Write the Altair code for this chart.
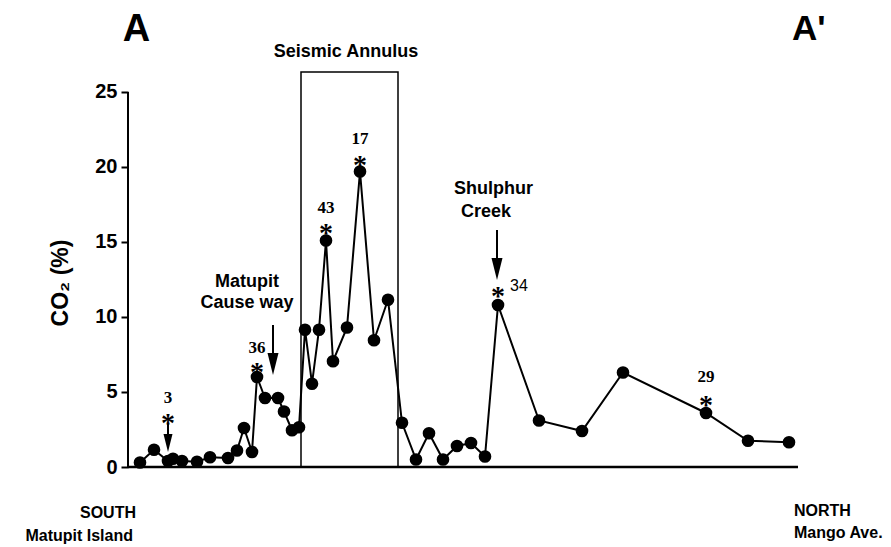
import altair as alt
import pandas as pd

# ---- data (distance along profile A-A', arbitrary units; CO2 in %) ----
dist = [12, 26, 40, 45, 54, 69, 82, 100, 109, 116, 124, 129, 137, 150, 156, 164, 171,
        177, 184, 191, 198, 205, 219, 232, 246, 260, 274, 288, 301, 315, 329, 343, 357,
        370, 411, 454, 495, 578, 620, 661]
co2 = [0.3, 1.15, 0.4, 0.55, 0.4, 0.35, 0.65, 0.6, 1.1, 2.6, 1.0, 6.0, 4.6, 4.6, 3.7, 2.45, 2.65,
       9.15, 5.55, 9.15, 15.1, 7.05, 9.3, 19.7, 8.45, 11.15, 2.95, 0.5, 2.25, 0.5, 1.4, 1.6, 0.7,
       10.8, 3.1, 2.4, 6.3, 3.6, 1.75, 1.65]

# sampled-site annotations (asterisks with site numbers)
star_x = [40, 129, 198, 232, 370, 578]
star_y = [3.33, 6.73, 16.0, 20.53, 11.8, 4.53]
site_label = ["3", "36", "43", "17", "34", "29"]
site_label_x = [40, 129, 198, 232, 391, 578]
site_label_y = [4.6, 7.9, 17.25, 21.85, 12.05, 6.0]
site_label_serif = [True, True, True, True, False, True]

# arrows
arrow_x = [40, 145, 369]
arrow_top = [2.87, 9.47, 15.8]
arrow_tip = [1.0, 6.13, 12.47]
arrow_head = [324, 484, 484]

# seismic annulus box
box_x = [173]
box_x2 = [270]

Y_MAX = 26.33
X_MAX = 670

df = pd.DataFrame({"dist": dist, "co2": co2})
stars = pd.DataFrame({"x": star_x, "y": star_y, "star": ["*"] * len(star_x)})
labels = pd.DataFrame({"x": site_label_x, "y": site_label_y, "t": site_label,
                       "serif": site_label_serif})
arrows = pd.DataFrame({"x": arrow_x, "top": arrow_top, "tip": arrow_tip,
                       "head": [t + (s ** 0.5) / 2 / 15.0 for t, s in zip(arrow_tip, arrow_head)],
                       "size": arrow_head})
box = pd.DataFrame({"x": box_x, "x2": box_x2, "y": [0], "y2": [Y_MAX]})

xs = alt.Scale(domain=[0, X_MAX], nice=False, zero=False)
ys = alt.Scale(domain=[0, Y_MAX], nice=False, zero=True)

SANS = "Liberation Sans"

main_y = alt.Y(
    "co2:Q", scale=ys, title=None,
    axis=alt.Axis(
        values=[0, 2.5, 5, 7.5, 10, 12.5, 15, 17.5, 20, 22.5, 25],
        labelExpr="datum.value % 5 === 0 ? datum.label : ''",
        tickSize={"condition": {"test": "datum.value % 5 === 0", "value": 7}, "value": 4},
        domain=False, grid=False, ticks=True, tickColor="black", tickWidth=2,
        labelFont=SANS, labelFontSize=20, labelFontWeight="bold", labelColor="black",
        labelPadding=4, labelOverlap=False, title=None,
    ),
)

def X(f):
    return alt.X(f, scale=xs, axis=None)

def Y(f):
    return alt.Y(f, scale=ys, title=None)

line = alt.Chart(df).mark_line(color="black", strokeWidth=2).encode(x=X("dist:Q"), y=main_y)
pts = alt.Chart(df).mark_point(filled=True, color="black", size=160, opacity=1).encode(
    x=X("dist:Q"), y=Y("co2:Q"))

box_layer = alt.Chart(box).mark_rect(fillOpacity=0, stroke="black", strokeWidth=1.5).encode(
    x=X("x:Q"), x2="x2:Q", y=Y("y:Q"), y2="y2:Q")

# axis lines
yaxis_line = alt.Chart(pd.DataFrame({"x": [0], "y": [0], "y2": [25]})).mark_rule(
    color="black", strokeWidth=2).encode(x=X("x:Q"), y=Y("y:Q"), y2="y2:Q")
xaxis_line = alt.Chart(pd.DataFrame({"x": [0], "x2": [X_MAX], "y": [0]})).mark_rule(
    color="black", strokeWidth=2.5).encode(x=X("x:Q"), x2="x2:Q", y=Y("y:Q"))

star_layer = alt.Chart(stars).mark_text(
    font="Liberation Serif", fontSize=28, fontWeight="bold", baseline="middle", dy=7,
    color="#000000").encode(
    x=X("x:Q"), y=Y("y:Q"), text="star:N")
label_serif = alt.Chart(labels[labels["serif"]]).mark_text(
    font="Liberation Serif", fontSize=17, fontWeight="bold", baseline="middle",
    color="#000000").encode(
    x=X("x:Q"), y=Y("y:Q"), text="t:N")
label_sans = alt.Chart(labels[~labels["serif"]]).mark_text(
    font=SANS, fontSize=16, baseline="middle", color="#000000").encode(
    x=X("x:Q"), y=Y("y:Q"), text="t:N")

shafts = alt.Chart(arrows).mark_rule(color="black", strokeWidth=2).encode(
    x=X("x:Q"), y=Y("top:Q"), y2="head:Q")
heads = alt.Chart(arrows).mark_point(
    shape="M-0.5,-1L0.5,-1L0,1Z", filled=True, color="black", opacity=1).encode(
    x=X("x:Q"), y=Y("head:Q"), size=alt.Size("size:Q", scale=None, legend=None))

notes = pd.DataFrame({
    "x": [119, 119, 326, 333],
    "y": [12.33, 10.93, 18.53, 17.0],
    "t": ["Matupit", "Cause way", "Shulphur", "Creek"],
    "align": ["center", "center", "left", "left"],
})
note_c = alt.Chart(notes[notes["align"] == "center"]).mark_text(
    font=SANS, fontSize=18, fontWeight="bold", align="center", baseline="middle", color="black").encode(
    x=X("x:Q"), y=Y("y:Q"), text="t:N")
note_l = alt.Chart(notes[notes["align"] == "left"]).mark_text(
    font=SANS, fontSize=18, fontWeight="bold", align="left", baseline="middle", color="black").encode(
    x=X("x:Q"), y=Y("y:Q"), text="t:N")

seismic = alt.Chart(pd.DataFrame({"x": [218], "t": ["Seismic Annulus"]})).mark_text(
    font=SANS, fontSize=18, fontWeight="bold", align="center", baseline="middle", color="black").encode(
    x=X("x:Q"), y=alt.value(-20), text="t:N")

def fixed(txt, px, py, size, align, weight="bold", angle=0):
    kw = dict(font=SANS, fontSize=size, fontWeight=weight, align=align,
              baseline="alphabetic", color="black", text=txt)
    if angle:
        kw["angle"] = angle
        kw["baseline"] = "middle"
    return alt.Chart(pd.DataFrame({"a": [0]})).mark_text(**kw).encode(
        x=alt.value(px), y=alt.value(py))

titles = [
    fixed("A", 8.5, -31, 38, "center"),
    fixed("A'", 664, -32, 35, "left"),
    fixed("SOUTH", 8, 446, 16, "right"),
    fixed("Matupit Island", 5, 469, 16, "right"),
    fixed("NORTH", 666, 444, 16, "left"),
    fixed("Mango Ave.", 666, 466, 16, "left"),
    fixed("CO\u2082 (%)", -67, 211, 23, "center", angle=270),
]

chart = alt.layer(
    box_layer, yaxis_line, xaxis_line, line, pts, star_layer, label_serif, label_sans,
    shafts, heads, note_c, note_l, seismic, *titles,
).properties(
    width=670, height=395,
    autosize=alt.AutoSizeParams(type="none"),
    padding={"left": 120, "top": 64, "right": 85, "bottom": 80},
    background="white",
).configure_view(stroke=None)

chart.save("out.html", embed_options={"renderer": "svg", "actions": False})
